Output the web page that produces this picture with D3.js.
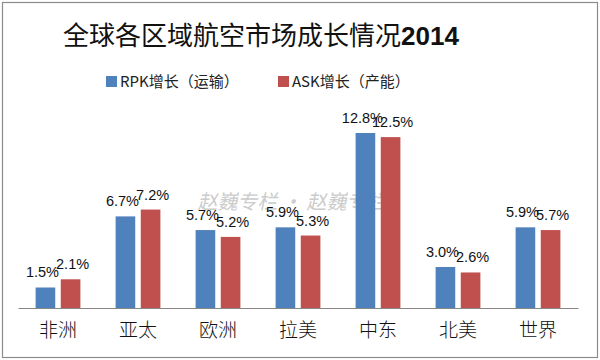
<!DOCTYPE html>
<html><head><meta charset="utf-8">
<script src="https://cdn.jsdelivr.net/npm/d3@7/dist/d3.min.js"></script>
<style>body{margin:0;background:#fff}svg{display:block}</style>
</head><body><svg id="c" width="600" height="360"></svg>
<script>
const categories = ["非洲","亚太","欧洲","拉美","中东","北美","世界"];
const rpk = [1.5, 6.7, 5.7, 5.9, 12.8, 3.0, 5.9];
const ask = [2.1, 7.2, 5.2, 5.3, 12.5, 2.6, 5.7];
const seriesNames = ["RPK增长（运输）","ASK增长（产能）"];
const colors = ["#4F81BD","#C0504D"];

const svg = d3.select("#c");
const font = "'Noto Sans CJK SC','Noto Sans',sans-serif";
svg.append("rect").attr("x",2.5).attr("y",2.5).attr("width",595).attr("height",355)
  .attr("fill","#fff").attr("stroke","#8c8c8c").attr("stroke-width",1.2);

const x0 = d3.scaleBand().domain(categories).range([18,578]).paddingInner(0).paddingOuter(0);
const x1 = d3.scaleBand().domain([0,1]).range([0,x0.bandwidth()]).paddingInner(0.22).paddingOuter(0.7);
const y = d3.scaleLinear().domain([0,12.8]).range([308,133]);

// watermark
svg.append("g").attr("transform","translate(292,209) skewX(-12)")
  .append("text").attr("text-anchor","middle")
  .attr("font-family",font).attr("font-size",20)
  .attr("fill","#cccccc")
  .text("赵巍专栏 · 赵巍专栏");

const data = categories.map((c,i)=>({c, v:[rpk[i],ask[i]]}));
const g = svg.append("g");
data.forEach(d=>{
  d.v.forEach((v,j)=>{
    g.append("rect").attr("x",x0(d.c)+x1(j)).attr("y",y(v))
      .attr("width",x1.bandwidth()).attr("height",y(0)-y(v)).attr("fill",colors[j]);
  });
});
data.forEach(d=>{
  d.v.forEach((v,j)=>{
    g.append("text").attr("x",x0(d.c)+x1(j)+x1.bandwidth()/2 + (j===0?-3:2)).attr("y",y(v)-10)
      .attr("text-anchor","middle").attr("font-family","'Liberation Sans',sans-serif")
      .attr("font-size",14.5).attr("fill","#111").text(v.toFixed(1)+"%");
  });
});

// axis
const ax = svg.append("g").attr("transform","translate(0,308)")
  .call(d3.axisBottom(x0).tickSize(0).tickPadding(20));
ax.select(".domain").attr("stroke","#868686");
ax.selectAll("text").attr("font-family",font).attr("font-size",19).attr("font-weight",300).attr("fill","#111").attr("dy","0.45em");

// title
svg.append("text").attr("x",261).attr("y",45).attr("text-anchor","middle")
  .attr("font-family",font).attr("font-size",26).attr("fill","#111")
  .html('全球各区域航空市场成长情况<tspan font-weight="bold" font-family="\'Liberation Sans\',sans-serif">2014</tspan>');

// legend
const lx = [106, 278];
seriesNames.forEach((n,i)=>{
  svg.append("rect").attr("x",lx[i]).attr("y",76).attr("width",11).attr("height",11).attr("fill",colors[i]);
  svg.append("text").attr("x",lx[i]+14).attr("y",87).attr("font-family",font).attr("font-size",15)
    .attr("fill","#222").text(n);
});
</script></body></html>
